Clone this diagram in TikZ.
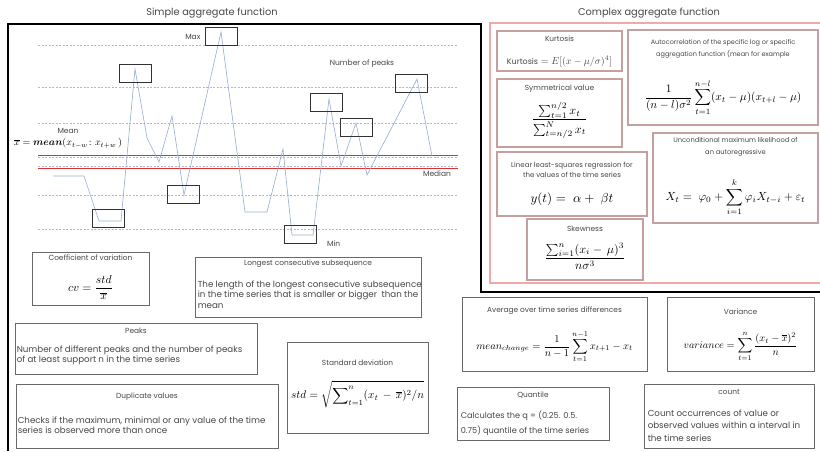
\documentclass[tikz,border=0pt]{standalone}
\usepackage[no-math]{fontspec}
\setmainfont{Poppins}
\usepackage{amsmath,amssymb}
\usepackage{graphicx}
\definecolor{framepink}{RGB}{242,168,168}
\definecolor{boxrose}{RGB}{196,160,160}
\definecolor{boxgray}{RGB}{105,105,105}
\definecolor{txtgray}{RGB}{70,70,70}
\definecolor{seriesblue}{RGB}{150,170,210}
\definecolor{meanred}{RGB}{212,52,52}
\colorlet{gridgray}{gray!55}
\usetikzlibrary{positioning}

\begin{document}
\begin{tikzpicture}[x=1pt, y=-1pt,
  featbox/.style={draw=boxgray, line width=0.9pt, inner sep=0pt},
  cplxbox/.style={draw=boxrose, line width=1.1pt, inner sep=0pt},
  peakbox/.style={draw=black!80, line width=0.8pt, minimum width=32pt,
    minimum height=18pt, inner sep=0pt},
  boxtitle/.style={text=txtgray, font=\fontsize{7.4}{9}\selectfont, inner sep=0pt},
  boxtext/.style={text=txtgray, font=\fontsize{8.7}{10.5}\selectfont,
    inner sep=0pt, align=left, anchor=north west},
  smalltext/.style={text=txtgray, font=\fontsize{6.7}{12}\selectfont,
    inner sep=0pt, align=center},
  chartlabel/.style={text=txtgray, font=\fontsize{7.5}{9}\selectfont, inner sep=0pt},
  formula/.style={inner sep=0pt, font=\fontsize{10}{12}\selectfont},
  heading/.style={text=txtgray, font=\fontsize{9.8}{11}\selectfont, inner sep=0pt},
  gridline/.style={draw=gridgray, dash pattern=on 2pt off 1.5pt, line width=0.6pt},
  meanline/.style={draw=meanred, line width=0.9pt},
]
\useasboundingbox (0,0) rectangle (820,451);

% headings and outer frames
\node[heading] (simple) at (212,13) {Simple aggregate function};
\node[heading] (complex) at (649,13) {Complex aggregate function};
\draw[line width=2.4pt] (8,451) -- (8,24) -- (481,24) -- (481,292) -- (821,292);
\draw[framepink, line width=2.6pt] (490,23) rectangle (822,283);

% time series chart
\foreach \gy in {45,87,123,157.5,166,195,229}
  \draw[gridline] (38,\gy) -- (458,\gy);
\draw[meanline] (38,155) -- (458,155);
\draw[meanline] (38,168) -- (458,168);
\draw[seriesblue, line width=0.6pt] (53,176) -- (84,176) -- (99,221) -- (121,221)
  -- (135,69) -- (147,138) -- (159,162) -- (172,116) -- (184,195) -- (221,32)
  -- (245,212) -- (267,212) -- (283,149) -- (292,235) -- (313,235) -- (329,99)
  -- (341,166) -- (356,123) -- (367,175) -- (417,79) -- (432,156);

\node[peakbox] (max) at (221,36.5) {};
\node[peakbox] (pk1) at (135.5,73) {};
\node[peakbox] (vl1) at (108,218) {};
\node[peakbox] (vl2) at (183,194) {};
\node[peakbox] (min) at (300.5,234) {};
\node[peakbox] (pk2) at (326,102) {};
\node[peakbox] (pk3) at (356,127) {};
\node[peakbox] (pk4) at (411.5,83) {};

\node[chartlabel, left=4pt of max] (maxlbl) {Max};
\node[chartlabel, right=10pt of min.south east, anchor=west] (minlbl) {Min};
\node[chartlabel] (npeaks) at (362,64) {Number of peaks};
\node[chartlabel] (meanlbl) at (68,131) {Mean};
\node[formula] (meanfx) at (68,143) {$\overline{x} = \boldsymbol{mean}(x_{t-w}\colon x_{t+w}\,)$};
\node[chartlabel] (medianlbl) at (437,174) {Median};

% simple aggregate boxes
\node[featbox, minimum width=117, minimum height=53] (cv) at (90.5,278.5) {};
\node[boxtitle] at ([yshift=-6]cv.north) {Coefficient of variation};
\node[formula] at ([yshift=-36]cv.north) {\scalebox{1.16}{$cv = \dfrac{std}{\overline{x}}$}};

\node[featbox, minimum width=226, minimum height=60] (lcs) at (308,287) {};
\node[boxtitle] at ([yshift=-7]lcs.north) {Longest consecutive subsequence};
\node[boxtext] at ([xshift=3,yshift=-24]lcs.north west) {The length of the longest consecutive subsequence\\in the time series that is smaller or bigger\ \ than the\\mean};

\node[featbox, minimum width=242, minimum height=51] (peaks) at (136,348.5) {};
\node[boxtitle] at ([yshift=-8]peaks.north) {Peaks};
\node[boxtext] at ([xshift=2,yshift=-23]peaks.north west) {Number of different peaks and the number of peaks\\of at least support n in the time series};

\node[featbox, minimum width=141, minimum height=91] (std) at (357.5,387.5) {};
\node[boxtitle] at ([yshift=-21]std.north) {Standard deviation};
\node[formula] at ([yshift=-53]std.north) {\scalebox{1.12}{$\displaystyle std = \sqrt{\sum\nolimits_{t=1}^{n} (x_t \,-\, \overline{x})^2/n}$}};

\node[featbox, minimum width=262, minimum height=64] (dup) at (147,416) {};
\node[boxtitle] at ([yshift=-13]dup.north) {Duplicate values};
\node[boxtext] at ([xshift=2,yshift=-33]dup.north west) {Checks if the maximum, minimal or any value of the time\\series is observed more than once};

% complex aggregate boxes
\node[cplxbox, minimum width=125, minimum height=40] (kurt) at (559.5,51) {};
\node[boxtitle] at ([yshift=-8]kurt.north) {Kurtosis};
\node[formula, text=txtgray] at ([yshift=-31]kurt.north) {{\fontsize{8}{10}\selectfont Kurtosis} $= E[(x-\mu/\sigma)^4]$};

\node[cplxbox, minimum width=190, minimum height=95] (auto) at (723,77.5) {};
\node[smalltext, font=\fontsize{6.5}{12}\selectfont] at ([yshift=-19]auto.north) {Autocorrelation of the specific log or specific\\aggregation function (mean for example};
\node[formula] at ([yshift=-68]auto.north) {\scalebox{1.14}{$\displaystyle \frac{1}{(n-l)\sigma^2}\sum_{t=1}^{n-l}(x_t-\mu)(x_{t+l}-\mu)$}};

\node[cplxbox, minimum width=125, minimum height=68] (sym) at (559.5,113) {};
\node[boxtitle] at ([yshift=-10]sym.north) {Symmetrical value};
\node[formula] at ([yshift=-42]sym.north) {\scalebox{1.2}{$\dfrac{\sum_{t=1}^{n/2} x_t}{\sum_{t=n/2}^{N} x_t}$}};

\node[cplxbox, minimum width=150, minimum height=64] (lin) at (572,184) {};
\node[smalltext, font=\fontsize{7}{10}\selectfont] at ([yshift=-18]lin.north) {Linear least-squares regression for\\the values of the time series};
\node[formula] at ([yshift=-48]lin.north) {\scalebox{1.3}{$y(t) = \ \alpha + \ \beta t$}};

\node[cplxbox, minimum width=165, minimum height=90] (uncond) at (735.5,178) {};
\node[smalltext] at ([yshift=-14]uncond.north) {Unconditional maximum likelihood of\\an autoregressive};
\node[formula] at ([yshift=-65]uncond.north) {\scalebox{1.18}{$\displaystyle X_t = \ \varphi_0 + \sum_{i=1}^{k}\varphi_i X_{t-i} + \varepsilon_t$}};

\node[cplxbox, minimum width=116, minimum height=61] (skew) at (585,249.5) {};
\node[boxtitle] at ([yshift=-10]skew.north) {Skewness};
\node[formula] at ([yshift=-38]skew.north) {\scalebox{1.2}{$\dfrac{\sum_{i=1}^{n}(x_i -\, \mu)^3}{n\sigma^3}$}};

% lower right boxes
\node[featbox, minimum width=185, minimum height=74] (avg) at (554.5,334) {};
\node[boxtitle] at ([yshift=-14]avg.north) {Average over time series differences};
\node[formula] at ([yshift=-50]avg.north) {\scalebox{1.05}{$\displaystyle mean_{change} = \frac{1}{n-1}\sum_{t=1}^{n-1} x_{t+1} - x_t$}};

\node[featbox, minimum width=147, minimum height=74] (var) at (740.5,334) {};
\node[boxtitle] at ([yshift=-15]var.north) {Variance};
\node[formula] at ([yshift=-50]var.north) {\scalebox{1.03}{$\displaystyle variance = \sum_{t=1}^{n}\frac{(x_t-\overline{x})^2}{n}$}};

\node[featbox, minimum width=152, minimum height=53] (quant) at (533,413.5) {};
\node[boxtitle] at ([yshift=-9]quant.north) {Quantile};
\node[boxtext, font=\fontsize{8.2}{15}\selectfont] at ([xshift=4,yshift=-24]quant.north west) {Calculates the q = (0.25. 0.5.\\0.75) quantile of the time series};

\node[featbox, minimum width=170, minimum height=64] (count) at (729,416) {};
\node[boxtitle] at ([yshift=-8]count.north) {count};
\node[boxtext, font=\fontsize{8.7}{12.5}\selectfont] at ([xshift=4,yshift=-26]count.north west) {Count occurrences of value or\\observed values within a interval in\\the time series};
\end{tikzpicture}
\end{document}
